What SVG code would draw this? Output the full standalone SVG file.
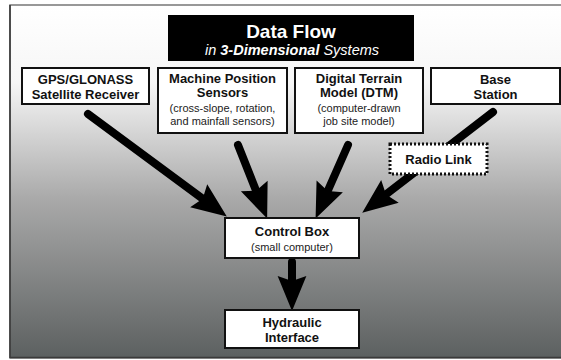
<svg xmlns="http://www.w3.org/2000/svg" width="561" height="360" viewBox="0 0 561 360">
<defs>
<linearGradient id="bg" x1="0" y1="5" x2="0" y2="358" gradientUnits="userSpaceOnUse">
<stop offset="0" stop-color="#ffffff"/>
<stop offset="0.22" stop-color="#f6f6f6"/>
<stop offset="0.55" stop-color="#a9a9a9"/>
<stop offset="1" stop-color="#5c6060"/>
</linearGradient>
<marker id="ah" markerUnits="userSpaceOnUse" markerWidth="40" markerHeight="40" viewBox="-6 -14 32 28" refX="0" refY="0" orient="auto">
<path d="M0,0 L-4,-11.5 L24,0 L-4,11.5 Z" fill="#000"/>
</marker>
<style>
.box{fill:#fff;stroke:#111;stroke-width:2}
.b{font-family:"Liberation Sans",Arial,sans-serif;font-weight:bold;font-size:13px;fill:#111;text-anchor:middle}
.r{font-family:"Liberation Sans",Arial,sans-serif;font-size:11px;fill:#222;text-anchor:middle}
.arr{stroke:#000;stroke-width:8;fill:none;stroke-linecap:round;marker-end:url(#ah)}
</style>
</defs>
<rect x="0" y="0" width="561" height="360" fill="#fff"/>
<rect x="10" y="5" width="560" height="353" fill="url(#bg)" stroke="#777" stroke-width="1.5"/>
<line x1="10" y1="5" x2="10" y2="358" stroke="#333" stroke-width="1.5"/>
<line x1="10" y1="357.5" x2="561" y2="357.5" stroke="#3a3a3a" stroke-width="1.5"/>

<g id="title">
<rect x="168" y="15" width="246" height="46" fill="#000"/>
<text x="291" y="38" font-family="Liberation Sans,Arial,sans-serif" font-weight="bold" font-size="19" fill="#fff" text-anchor="middle">Data Flow</text>
<text x="292" y="55" font-family="Liberation Sans,Arial,sans-serif" font-style="italic" font-size="14.5" fill="#fff" text-anchor="middle">in <tspan font-weight="bold">3-Dimensional</tspan> Systems</text>
</g>

<g id="connectors">
<line class="arr" x1="88" y1="114" x2="202.7" y2="198.7"/>
<line class="arr" x1="238" y1="145" x2="256.1" y2="190.7"/>
<line class="arr" x1="348" y1="145" x2="327.7" y2="191"/>
<line class="arr" x1="493" y1="112" x2="386" y2="194.4"/>
<line class="arr" x1="292" y1="262" x2="292" y2="281"/>
</g>

<g id="gps">
<rect class="box" x="22" y="68" width="127" height="36"/>
<text class="b" x="85.5" y="84">GPS/GLONASS</text>
<text class="b" x="85.5" y="99">Satellite Receiver</text>
</g>

<g id="mps">
<rect class="box" x="158" y="68" width="129" height="65"/>
<text class="b" x="222.5" y="83">Machine Position</text>
<text class="b" x="222.5" y="97">Sensors</text>
<text class="r" x="222.5" y="112">(cross-slope, rotation,</text>
<text class="r" x="222.5" y="125">and mainfall sensors)</text>
</g>

<g id="dtm">
<rect class="box" x="295" y="68" width="128" height="65"/>
<text class="b" x="359" y="83">Digital Terrain</text>
<text class="b" x="359" y="97">Model (DTM)</text>
<text class="r" x="359" y="112">(computer-drawn</text>
<text class="r" x="359" y="125">job site model)</text>
</g>

<g id="base">
<rect class="box" x="431" y="68" width="129" height="36"/>
<text class="b" x="495.5" y="84">Base</text>
<text class="b" x="495.5" y="99">Station</text>
</g>

<g id="radio">
<rect x="390" y="144" width="97" height="30" fill="#fff" stroke="#111" stroke-width="3" stroke-dasharray="2 2"/>
<text class="b" x="438.5" y="164">Radio Link</text>
</g>

<g id="control">
<rect class="box" x="225" y="218" width="134" height="40"/>
<text class="b" x="292" y="236">Control Box</text>
<text class="r" x="292" y="251">(small computer)</text>
</g>

<g id="hydraulic">
<rect class="box" x="225" y="310" width="134" height="38"/>
<text class="b" x="292" y="327">Hydraulic</text>
<text class="b" x="292" y="342">Interface</text>
</g>
</svg>
